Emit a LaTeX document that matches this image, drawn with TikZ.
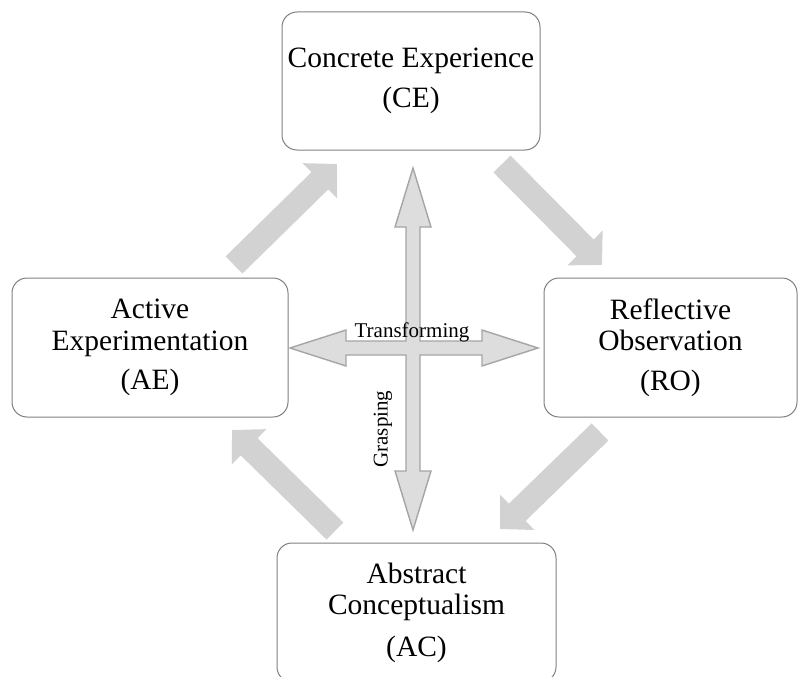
\documentclass[tikz,border=0pt]{standalone}
\usepackage{fontspec}
\setmainfont{Liberation Serif}
\usetikzlibrary{arrows.meta}
\definecolor{boxline}{RGB}{128,128,128}
\definecolor{bigarr}{RGB}{210,210,210}
\definecolor{crossfill}{RGB}{221,221,221}
\definecolor{crossline}{RGB}{165,165,165}
\newcommand\boxfont{\fontsize{29.5}{31.5}\selectfont}
\newcommand\labfont{\fontsize{21}{23}\selectfont}
\tikzset{
  stagebox/.style={draw=boxline, line width=1pt, rounded corners=15pt, fill=white,
    align=center, font=\boxfont, inner sep=0pt, text=black},
  bigarrow/.style={draw=bigarr, line width=24pt, line cap=butt,
    -{Triangle[length=24pt, width=48pt, fill=bigarr]}},
  crossarrow/.style={fill=crossfill, draw=crossline, line width=1.4pt, line join=miter},
  crosslabel/.style={font=\labfont, inner sep=0pt, text=black}
}
\begin{document}
\begin{tikzpicture}[x=1pt,y=-1pt]
\clip (0,0) rectangle (809,677);
\fill[white] (0,0) rectangle (809,677);
% boxes
\node[stagebox, minimum width=258pt, minimum height=138pt] (ce) at (411,81)
  {Concrete Experience\\[9pt](CE)};
\node[stagebox, minimum width=276pt, minimum height=139pt] (ae) at (150,347.5)
  {Active\\Experimentation\\[8pt](AE)};
\node[stagebox, minimum width=253pt, minimum height=139pt] (ro) at (670.5,347.5)
  {Reflective\\Observation\\[8pt](RO)};
\node[stagebox, minimum width=279pt, minimum height=139pt] (ac) at (416.5,612.5)
  {Abstract\\Conceptualism\\[10pt](AC)};
% big cycle arrows
\coordinate (t1) at (234,265); \coordinate (h1) at (337,164);
\coordinate (t2) at (502,164); \coordinate (h2) at (602,265);
\coordinate (t3) at (600,432); \coordinate (h3) at (500,529);
\coordinate (t4) at (335,531); \coordinate (h4) at (232,430);
\draw[bigarrow] (t1) -- (h1);
\draw[bigarrow] (t2) -- (h2);
\draw[bigarrow] (t3) -- (h3);
\draw[bigarrow] (t4) -- (h4);
% central cross
\coordinate (ctr) at (413,348);
\draw[crossarrow] (ctr) ++(0,-180)
  -- ++(18,59) -- ++(-11,0) -- ++(0,114) -- ++(62,0) -- ++(0,-11)
  -- ++(56,18) -- ++(-56,18) -- ++(0,-11) -- ++(-62,0) -- ++(0,116)
  -- ++(11,0) -- ++(-18,59) -- ++(-18,-59) -- ++(11,0) -- ++(0,-116)
  -- ++(-60,0) -- ++(0,11) -- ++(-56,-18) -- ++(56,-18) -- ++(0,11)
  -- ++(60,0) -- ++(0,-114) -- ++(-11,0) -- cycle;
\node[crosslabel, anchor=base] (tr) at (412,337) {Transforming};
\node[crosslabel, rotate=90] (gr) at (383,429) {Grasping};
\end{tikzpicture}
\end{document}
